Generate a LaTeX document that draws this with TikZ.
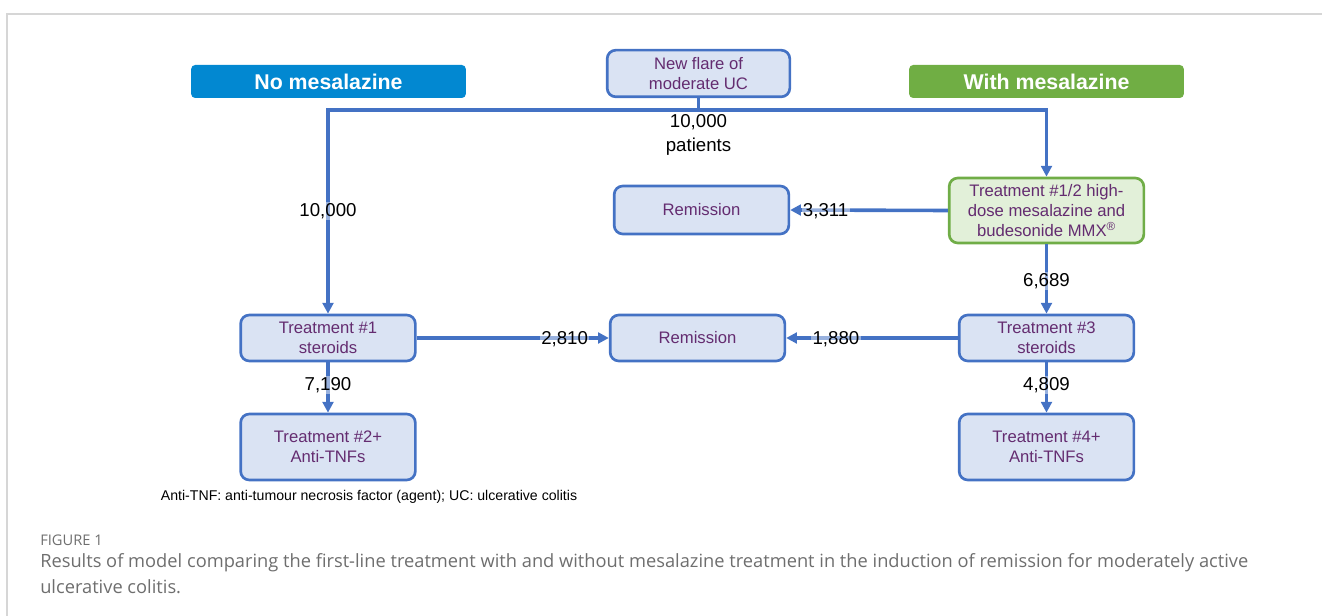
\documentclass[tikz,border=0pt]{standalone}
\usepackage{fontspec}
\setmainfont{Liberation Sans}
\newfontfamily\capfont{Open Sans}
\usetikzlibrary{arrows.meta,positioning,calc}

\definecolor{boxblue}{RGB}{68,114,196}
\definecolor{boxfill}{RGB}{218,227,243}
\definecolor{boxtext}{RGB}{100,44,112}
\definecolor{grnline}{RGB}{112,173,71}
\definecolor{grnfill}{RGB}{226,240,217}
\definecolor{headblue}{RGB}{2,136,209}
\definecolor{headgreen}{RGB}{112,174,68}
\definecolor{frame}{RGB}{214,214,214}
\definecolor{capgray}{RGB}{110,110,110}

\begin{document}
\begin{tikzpicture}[x={(0.75pt,0)}, y={(0,-0.75pt)},
  box/.style={draw=boxblue, line width=2pt, fill=boxfill, rounded corners=6.5pt, align=center,
    minimum width=131pt, minimum height=34.5pt, inner sep=1pt, text=boxtext,
    font=\fontsize{12.5}{15}\selectfont},
  greenbox/.style={box, draw=grnline, fill=grnfill, minimum width=146pt, minimum height=48.75pt},
  head/.style={rounded corners=3pt, minimum width=206pt, minimum height=24.75pt, text=white,
    font=\fontsize{16}{18}\bfseries},
  lab/.style={fill=white, fill opacity=0.45, text opacity=1, inner sep=1pt, align=center,
    font=\fontsize{14}{17}\selectfont},
  conn/.style={draw=boxblue, line width=2.7pt},
  arr/.style={conn, -{Triangle[length=8pt, width=8pt]}}
]
\useasboundingbox (0,0) rectangle (1322,616);
% frame
\draw[frame, line width=1pt] (1322,14) -- (7,14) -- (7,616);

% headers
\node[head, fill=headblue] (nomes) at (328.5,81.5) {No mesalazine};
\node[head, fill=headgreen] (withmes) at (1046.5,81.5) {With mesalazine};

% boxes
\node[box, minimum width=137pt, minimum height=35pt] (flare) at (698.5,73.5) {New flare of\\moderate UC};
\node[box, minimum height=36pt] (rem1) at (701.5,210) {Remission};
\node[greenbox] (mesa) at (1046.5,210.5) {Treatment \#1/2 high-\\dose mesalazine and\\budesonide MMX\textsuperscript{\textregistered}};
\node[box] (treat1) at (328,338) {Treatment \#1\\steroids};
\node[box] (rem2) at (697.5,338) {Remission};
\node[box] (treat3) at (1046.5,338) {Treatment \#3\\steroids};
\node[box, minimum height=49.5pt] (treat2) at (328,447) {Treatment \#2+\\Anti-TNFs};
\node[box, minimum height=49.5pt] (treat4) at (1046.5,447) {Treatment \#4+\\Anti-TNFs};

% connectors
\coordinate (split) at (698.5,110);
\draw[conn] (flare) -- (split);
\draw[arr] (split) -| node[lab, pos=0.744, yshift=-1pt] (n10k) {10,000} (treat1.north);
\draw[arr] (split) -| (mesa.north);
\node[lab, anchor=north, minimum width=107pt, font=\fontsize{14}{17.5}\selectfont, yshift=-2.5pt] (npat) at (split) {10,000\\patients};
\draw[arr] (mesa.west) -- node[lab, pos=0.775, yshift=-0.7pt] (n3311) {3,311} (rem1.east);
\draw[arr] (mesa.south) -- node[lab, pos=0.51, yshift=-1pt] (n6689) {6,689} (treat3.north);
\draw[arr] (treat1.east) -- node[lab, pos=0.77, yshift=-0.7pt] (n2810) {2,810} (rem2.west);
\draw[arr] (treat3.west) -- node[lab, pos=0.71, yshift=-0.7pt] (n1880) {1,880} (rem2.east);
\draw[arr] (treat1.south) -- node[lab, pos=0.42, yshift=-1pt] (n7190) {7,190} (treat2.north);
\draw[arr] (treat3.south) -- node[lab, pos=0.42, yshift=-1pt] (n4809) {4,809} (treat4.north);

% notes
\node[font=\fontsize{10.6}{12}\selectfont] (abbr) at (369,497) {Anti-TNF: anti-tumour necrosis factor (agent); UC: ulcerative colitis};
\node[anchor=west, inner sep=0pt, text=capgray, font=\capfont\fontsize{11}{13}\selectfont] (fig) at (40,540) {FIGURE 1};
\node[anchor=west, inner sep=0pt, text=capgray, font=\capfont\fontsize{13.7}{18}\selectfont] (cap1) at (40,563)
  {Results of model comparing the first-line treatment with and without mesalazine treatment in the induction of remission for moderately active};
\node[anchor=west, inner sep=0pt, text=capgray, font=\capfont\fontsize{13.7}{18}\selectfont] (cap2) at (40,587) {ulcerative colitis.};
\end{tikzpicture}
\end{document}
